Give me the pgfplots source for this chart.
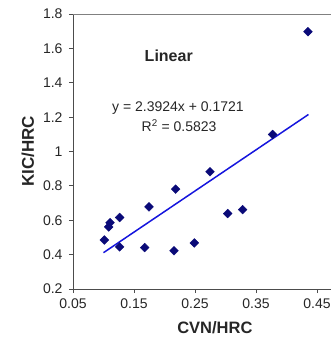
\documentclass[border=0pt]{standalone}
\usepackage{fontspec}
\setmainfont{Liberation Sans}
\usepackage{pgfplots}
\pgfplotsset{compat=1.18}
\definecolor{navy}{HTML}{0A0A78}
\definecolor{lineblue}{HTML}{1515DD}
\begin{document}
\begin{tikzpicture}
\begin{axis}[name=ax, scale only axis, width=258pt, height=275pt,
 xmin=0.05, xmax=0.473, ymin=0.2, ymax=1.8,
 axis lines=left, axis line style={-, color=black!70, line width=0.8pt},
 xtick={0.05,0.15,0.25,0.35,0.45},
 xticklabels={0.05,0.15,0.25,0.35,0.45},
 ytick={0.2,0.4,0.6,0.8,1,1.2,1.4,1.6,1.8},
 yticklabels={0.2,0.4,0.6,0.8,1,1.2,1.4,1.6,1.8},
 tick align=outside, major tick length=4pt,
 tick style={black!70, line width=0.8pt},
 ticklabel style={font=\fontsize{14}{16}\selectfont, text=black!85},
 xticklabel style={yshift=-2pt},
 yticklabel style={xshift=-3pt},
 xlabel={\textbf{CVN/HRC}}, ylabel={\textbf{KIC/HRC}},
 xlabel style={at={(axis description cs:0.55,-0.142)}, anchor=center, font=\fontsize{16.5}{18}\selectfont, text=black!85},
 ylabel style={at={(axis description cs:-0.175,0.5)}, anchor=center, font=\fontsize{17}{19}\selectfont, text=black!85},
 clip=false,
]
\draw[gray, line width=0.8pt] (rel axis cs:0,1) -- (rel axis cs:1,1);
\addplot[only marks, mark=square*, mark size=3.1pt, mark options={rotate=45}, color=navy, fill=navy] coordinates {
 (0.1014,0.485) (0.1085,0.561) (0.1107,0.586) (0.1265,0.616) (0.1265,0.445)
 (0.1675,0.441) (0.1746,0.678) (0.2183,0.781) (0.2156,0.423) (0.2489,0.468)
 (0.2746,0.882) (0.3036,0.639) (0.3281,0.662) (0.3773,1.099) (0.4352,1.697)
};
\addplot[lineblue, line width=1.5pt] coordinates {(0.1,0.4113) (0.436,1.2152)};
\node[font=\fontsize{16}{18}\selectfont\bfseries, text=black!85] at (axis cs:0.207,1.556) {Linear};
\node[font=\fontsize{14}{16}\selectfont, text=black!85] at (axis cs:0.222,1.253) {y = 2.3924x + 0.1721};
\node[font=\fontsize{14}{16}\selectfont, text=black!85] at (axis cs:0.224,1.149) {R\textsuperscript{2} = 0.5823};
\end{axis}
\pgfresetboundingbox
\path[use as bounding box] ([xshift=-73pt,yshift=-51pt]ax.south west) rectangle ([yshift=14pt]ax.north east);
\end{tikzpicture}
\end{document}
